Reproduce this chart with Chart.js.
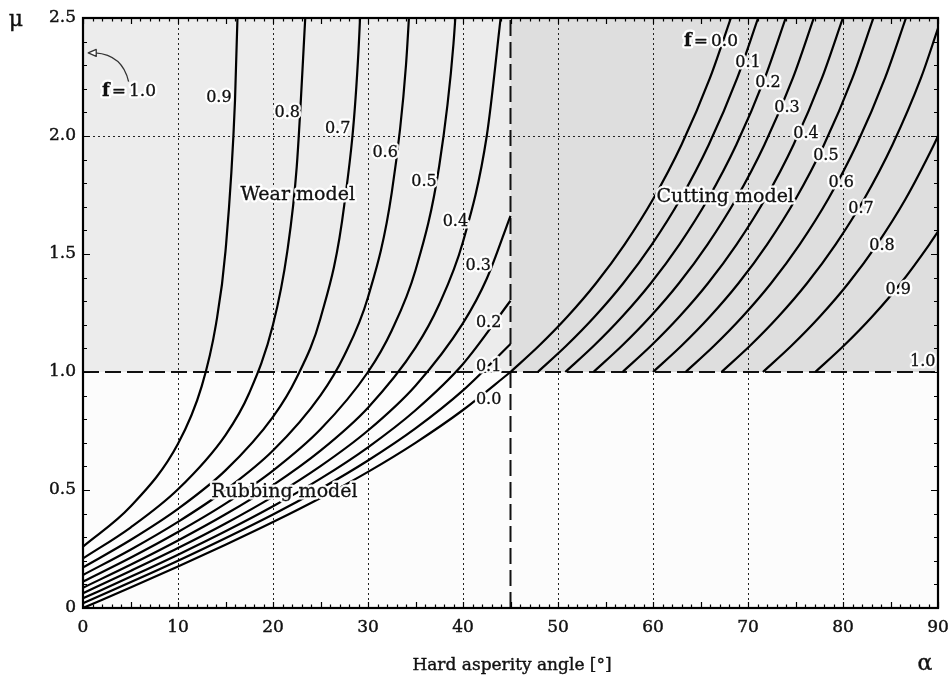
<!DOCTYPE html>
<html>
<head>
<meta charset="utf-8">
<script src="https://cdn.jsdelivr.net/npm/chart.js@4/dist/chart.umd.min.js"></script>
<style>
  html, body { margin: 0; padding: 0; background: #fff; }
</style>
</head>
<body>
<canvas id="chart" width="952" height="682"></canvas>
<script>
// friction coefficient mu vs hard asperity angle alpha, one curve per f
const xTicks = [0, 10, 20, 30, 40, 50, 60, 70, 80, 90];
const yTicks = [0, 0.5, 1.0, 1.5, 2.0, 2.5];
const fLevels = ['0.0', '0.1', '0.2', '0.3', '0.4', '0.5', '0.6', '0.7', '0.8', '0.9'];

// rubbing / wear model (alpha < 45)
const wearCurves = [
  [[0,0],[5,0.087],[10,0.176],[15,0.268],[20,0.364],[25,0.466],[30,0.577],[35,0.700],[40,0.839],[45,1.0]],
  [[0,0.020],[10,0.200],[20,0.396],[25,0.505],[30,0.625],[35,0.761],[40,0.922],[45,1.119]],
  [[0,0.041],[5,0.132],[10,0.226],[15,0.325],[20,0.431],[25,0.548],[30,0.681],[35,0.838],[40,1.034],[45,1.302]],
  [[0,0.063],[5,0.157],[10,0.254],[15,0.358],[20,0.472],[25,0.601],[30,0.752],[35,0.942],[40,1.207],[42.5,1.395],[45,1.662]],
  [[0,0.086],[5,0.183],[10,0.286],[15,0.397],[20,0.521],[25,0.667],[30,0.849],[35,1.103],[37.5,1.287],[40,1.552],[42.5,2.0],[44,2.513]],
  [[0,0.112],[5,0.213],[10,0.322],[15,0.442],[20,0.582],[25,0.757],[30,1.0],[32.5,1.176],[35,1.431],[37.5,1.874],[39,2.392],[40,3.05]],
  [[0,0.140],[5,0.247],[10,0.365],[15,0.500],[20,0.667],[25,0.901],[27.5,1.070],[30,1.317],[32.5,1.760],[34,2.301],[35,3.03]],
  [[0,0.172],[5,0.288],[10,0.420],[15,0.583],[20,0.810],[22.5,0.977],[25,1.228],[27.5,1.707],[29,2.362],[30,3.42]],
  [[0,0.210],[5,0.341],[10,0.503],[15,0.733],[17.5,0.911],[20,1.200],[21.5,1.510],[22.5,1.870],[23.5,2.576]],
  [[0,0.260],[5,0.430],[10,0.696],[12.5,0.940],[14,1.203],[15,1.512],[16,2.150],[16.5,2.844]]
];

// cutting model (mu > 1)
const cutCurves = [
  [[45,1],[48,1.111],[51,1.235],[54,1.376],[57,1.540],[60,1.732],[63,1.963],[66,2.246],[68.2,2.5]],
  [[47.87,1],[50.87,1.111],[53.87,1.235],[56.87,1.376],[59.87,1.540],[62.87,1.732],[65.87,1.963],[68.87,2.246],[71.07,2.5]],
  [[50.77,1],[53.77,1.111],[56.77,1.235],[59.77,1.376],[62.77,1.540],[65.77,1.732],[68.77,1.963],[71.77,2.246],[73.97,2.5]],
  [[53.73,1],[56.73,1.111],[59.73,1.235],[62.73,1.376],[65.73,1.540],[68.73,1.732],[71.73,1.963],[74.73,2.246],[76.93,2.5]],
  [[56.79,1],[59.79,1.111],[62.79,1.235],[65.79,1.376],[68.79,1.540],[71.79,1.732],[74.79,1.963],[77.79,2.246],[79.99,2.5]],
  [[60,1],[63,1.111],[66,1.235],[69,1.376],[72,1.540],[75,1.732],[78,1.963],[81,2.246],[83.2,2.5]],
  [[63.43,1],[66.43,1.111],[69.43,1.235],[72.43,1.376],[75.43,1.540],[78.43,1.732],[81.43,1.963],[84.43,2.246],[86.63,2.5]],
  [[67.21,1],[70.21,1.111],[73.21,1.235],[76.21,1.376],[79.21,1.540],[82.21,1.732],[85.21,1.963],[88.21,2.246],[90,2.456]],
  [[71.57,1],[74.57,1.111],[77.57,1.235],[80.57,1.376],[83.57,1.540],[86.57,1.732],[89.57,1.963],[90,2.0]],
  [[77.08,1],[80.08,1.111],[83.08,1.235],[86.08,1.376],[89.08,1.540],[90,1.595]]
];

// region boundaries
const boundaryMu = [[0,1],[90,1]];
const boundaryAlpha = [[45,0],[45,2.5]];

// label positions in data units [text, alpha, mu]
const wearLabels = [['0.0',42.7,0.88],['0.1',42.7,1.02],['0.2',42.7,1.21],['0.3',41.6,1.45],['0.4',39.2,1.636],
  ['0.5',35.9,1.805],['0.6',31.8,1.93],['0.7',26.8,2.03],['0.8',21.5,2.10],['0.9',14.3,2.163]];
const cutLabels = [['0.1',70.0,2.31],['0.2',72.1,2.225],['0.3',74.1,2.12],['0.4',76.1,2.01],['0.5',78.2,1.915],
  ['0.6',79.8,1.80],['0.7',81.9,1.69],['0.8',84.1,1.534],['0.9',85.8,1.35],['1.0',88.4,1.042]];
const regionLabels = [['Wear model',22.6,1.75],['Cutting model',67.6,1.74],['Rubbing model',21.2,0.49]];

const FONT = '"DejaVu Serif", "Liberation Serif", serif';

function toPts(arr) {
  return arr.map(p => ({x: p[0], y: p[1]}));
}

const datasets = [];
wearCurves.forEach((c, i) => datasets.push({ label: 'wear ' + fLevels[i], data: toPts(c) }));
cutCurves.forEach((c, i) => datasets.push({ label: 'cut ' + fLevels[i], data: toPts(c) }));
datasets.forEach(d => {
  d.showLine = true;
  d.borderColor = '#000';
  d.borderWidth = 2.2;
  d.pointRadius = 0;
  d.cubicInterpolationMode = 'monotone';
});
datasets.push({ label: 'mu = 1', data: toPts(boundaryMu), showLine: true, borderColor: '#111',
  borderWidth: 2, borderDash: [16, 6], pointRadius: 0 });
datasets.push({ label: 'alpha = 45', data: toPts(boundaryAlpha), showLine: true, borderColor: '#111',
  borderWidth: 2, borderDash: [16, 6], pointRadius: 0 });

function haloText(ctx, text, x, y) {
  ctx.lineJoin = 'round';
  ctx.lineWidth = 5;
  ctx.strokeStyle = 'rgba(255,255,255,0.95)';
  ctx.strokeText(text, x, y);
  ctx.fillStyle = '#111';
  ctx.fillText(text, x, y);
  ctx.lineWidth = 0.3;
  ctx.strokeStyle = '#111';
  ctx.strokeText(text, x, y);
}

// "f = 1.0" with bold f
function fLabel(ctx, value, cx, cy) {
  const bold = 'bold 18px ' + FONT;
  const reg = '17px ' + FONT;
  ctx.font = bold;
  const wf = ctx.measureText('f').width;
  ctx.font = reg;
  const we = ctx.measureText('=').width;
  const wv = ctx.measureText(value).width;
  let x = cx - (wf + we + wv + 5) / 2;
  ctx.textAlign = 'left';
  ctx.font = bold;
  haloText(ctx, 'f', x, cy);
  ctx.font = reg;
  haloText(ctx, '=', x + wf + 2, cy);
  haloText(ctx, value, x + wf + we + 5, cy);
}

const backdrop = {
  id: 'backdrop',
  beforeDatasetsDraw(chart) {
    const {ctx, chartArea: a, scales: {x, y}} = chart;
    ctx.save();
    ctx.fillStyle = '#fcfcfc';
    ctx.fillRect(a.left, a.top, a.width, a.height);
    const y1 = y.getPixelForValue(1), x45 = x.getPixelForValue(45);
    ctx.fillStyle = '#ececec';
    ctx.fillRect(a.left, a.top, x45 - a.left, y1 - a.top);
    ctx.fillStyle = '#dedede';
    ctx.fillRect(x45, a.top, a.right - x45, y1 - a.top);
    // dotted grid
    ctx.strokeStyle = '#222';
    ctx.lineWidth = 1;
    ctx.setLineDash([2, 3]);
    xTicks.slice(1, -1).forEach(v => {
      const px = Math.round(x.getPixelForValue(v)) + 0.5;
      ctx.beginPath(); ctx.moveTo(px, a.top); ctx.lineTo(px, a.bottom); ctx.stroke();
    });
    const py = Math.round(y.getPixelForValue(2.0)) + 0.5;
    ctx.beginPath(); ctx.moveTo(a.left, py); ctx.lineTo(a.right, py); ctx.stroke();
    ctx.restore();
  },
  afterDatasetsDraw(chart) {
    const {ctx, scales: {x, y}} = chart;
    ctx.save();
    ctx.textBaseline = 'middle';
    ctx.textAlign = 'center';
    ctx.font = '16px ' + FONT;
    wearLabels.concat(cutLabels).forEach(l => {
      haloText(ctx, l[0], x.getPixelForValue(l[1]), y.getPixelForValue(l[2]));
    });
    ctx.font = '19px ' + FONT;
    regionLabels.forEach(l => {
      haloText(ctx, l[0], x.getPixelForValue(l[1]), y.getPixelForValue(l[2]));
    });
    fLabel(ctx, '0.0', x.getPixelForValue(66.1), y.getPixelForValue(2.40));
    fLabel(ctx, '1.0', x.getPixelForValue(4.85), y.getPixelForValue(2.19));

    // curved arrow pointing at the f = 1.0 curve on the mu axis
    const sx = x.getPixelForValue(4.8), sy = y.getPixelForValue(2.23);
    const ex = x.getPixelForValue(0.55), ey = y.getPixelForValue(2.352);
    ctx.strokeStyle = '#333';
    ctx.lineWidth = 1.3;
    ctx.beginPath();
    ctx.moveTo(sx, sy);
    ctx.quadraticCurveTo(sx - 6, ey + 2, ex + 7, ey);
    ctx.stroke();
    ctx.fillStyle = '#fff';
    ctx.beginPath();
    ctx.moveTo(ex, ey);
    ctx.lineTo(ex + 8, ey - 3.5);
    ctx.lineTo(ex + 8, ey + 3.5);
    ctx.closePath();
    ctx.fill();
    ctx.stroke();
    ctx.restore();
  },
  afterDraw(chart) {
    const {ctx, chartArea: a, scales: {x, y}} = chart;
    ctx.save();
    ctx.strokeStyle = '#000';
    ctx.lineWidth = 1.2;
    // minor and major ticks, pointing inward on all four sides
    for (let i = 0; i <= 90; i++) {
      const px = Math.round(x.getPixelForValue(i)) + 0.5;
      const len = i % 5 === 0 ? 6 : 3.5;
      ctx.beginPath();
      ctx.moveTo(px, a.bottom); ctx.lineTo(px, a.bottom - len);
      ctx.moveTo(px, a.top); ctx.lineTo(px, a.top + len);
      ctx.stroke();
    }
    for (let i = 0; i <= 25; i++) {
      const py = Math.round(y.getPixelForValue(i / 10)) + 0.5;
      const len = i % 5 === 0 ? 7 : 4;
      ctx.beginPath();
      ctx.moveTo(a.left, py); ctx.lineTo(a.left + len, py);
      ctx.moveTo(a.right, py); ctx.lineTo(a.right - len, py);
      ctx.stroke();
    }
    ctx.lineWidth = 2.2;
    ctx.strokeRect(a.left, a.top, a.width, a.height);

    ctx.fillStyle = '#111';
    ctx.strokeStyle = '#111';
    ctx.lineWidth = 0.4;
    ctx.textBaseline = 'middle';
    ctx.font = '17px ' + FONT;
    ctx.textAlign = 'center';
    ctx.fillText('Hard asperity angle [°]', 512, 666);
    ctx.strokeText('Hard asperity angle [°]', 512, 666);
    ctx.font = '22px ' + FONT;
    ctx.fillText('μ', 16, 20);
    ctx.strokeText('μ', 16, 20);
    ctx.fillText('α', 925, 664);
    ctx.strokeText('α', 925, 664);
    ctx.restore();
  }
};

new Chart(document.getElementById('chart'), {
  type: 'scatter',
  data: { datasets: datasets },
  options: {
    responsive: false,
    animation: false,
    devicePixelRatio: 1,
    layout: { padding: { top: 18, right: 14, left: 0, bottom: 0 } },
    plugins: { legend: { display: false }, tooltip: { enabled: false } },
    scales: {
      x: {
        type: 'linear', min: 0, max: 90,
        afterBuildTicks: s => { s.ticks = xTicks.map(v => ({ value: v })); },
        afterFit: s => { s.height = 74; s.paddingLeft = 0; s.paddingRight = 0; },
        grid: { display: false, drawTicks: false },
        border: { display: false },
        ticks: { padding: 9, color: '#111', font: { family: FONT, size: 17 },
                 textStrokeColor: '#111', textStrokeWidth: 0.4,
                 maxRotation: 0, callback: v => String(v) }
      },
      y: {
        type: 'linear', min: 0, max: 2.5,
        afterBuildTicks: s => { s.ticks = yTicks.map(v => ({ value: v })); },
        afterFit: s => { s.width = 83; s.paddingTop = 0; s.paddingBottom = 0; },
        grid: { display: false, drawTicks: false },
        border: { display: false },
        ticks: { padding: 7, color: '#111', font: { family: FONT, size: 17 },
                 textStrokeColor: '#111', textStrokeWidth: 0.4,
                 callback: v => v === 0 ? '0' : v.toFixed(1) }
      }
    }
  },
  plugins: [backdrop]
});
</script>
</body>
</html>
